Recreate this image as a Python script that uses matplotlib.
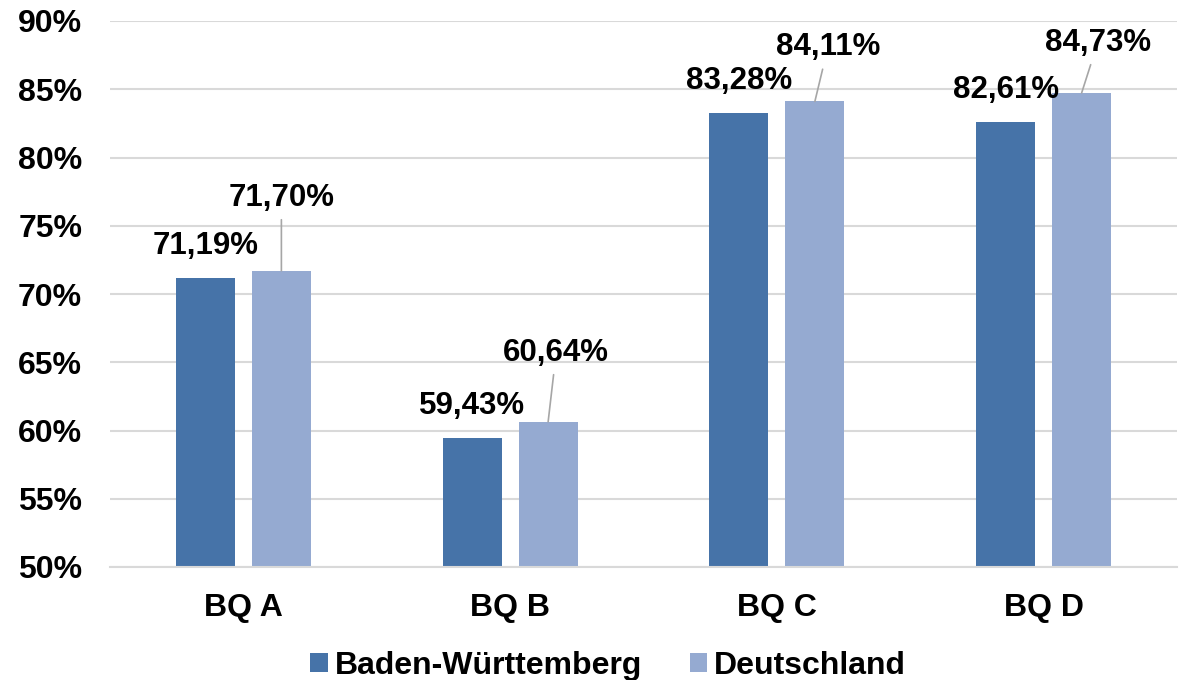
import matplotlib
matplotlib.use("Agg")
import matplotlib.pyplot as plt
from matplotlib.patches import Patch
import numpy as np

categories = ["BQ A", "BQ B", "BQ C", "BQ D"]
series_names = ["Baden-Württemberg", "Deutschland"]
bw_values = [71.19, 59.43, 83.28, 82.61]
de_values = [71.70, 60.64, 84.11, 84.73]
yticks = [50, 55, 60, 65, 70, 75, 80, 85, 90]

# layout of the Deutschland labels (pixel offsets from bar top), leader lines
de_label_dx = [0, 8, 13, 16]
de_label_dy = [58, 54, 39, 35]

dark = "#4673A8"
light = "#95AAD1"
grid_c = "#D9D9D9"
FONT = "Liberation Sans"

plt.rcParams['font.family'] = [FONT, 'DejaVu Sans']
plt.rcParams['font.weight'] = 'bold'

fig = plt.figure(figsize=(11.81, 6.80), dpi=100)
ax = fig.add_axes([110/1181, 1 - 567/680, (1177-110)/1181, (567-21)/680])

x = np.arange(len(categories))
w = 0.221
off = 0.1425
ax.bar(x - off, bw_values, width=w, color=dark, zorder=3)
ax.bar(x + off, de_values, width=w, color=light, zorder=3)

ax.set_ylim(50, 90)
ax.set_xlim(-0.5, len(categories) - 0.5)
ax.set_yticks(yticks)
ax.set_yticklabels([f"{t}%" for t in yticks], fontsize=23, fontweight='bold')
ax.set_xticks(x)
ax.set_xticklabels(categories, fontsize=23, fontweight='bold')
ax.tick_params(axis='y', length=0, pad=20)
ax.tick_params(axis='x', length=0, pad=19)
ax.grid(axis='y', color=grid_c, linewidth=1.5, zorder=0)
for s in ['left', 'right', 'top']:
    ax.spines[s].set_visible(False)
ax.spines['bottom'].set_color(grid_c)
ax.spines['bottom'].set_linewidth(1.5)
ax.spines['bottom'].set_zorder(4)

def fmt(v):
    return f"{v:.2f}".replace(".", ",") + "%"

for i, v in enumerate(bw_values):
    ax.annotate(fmt(v), xy=(x[i] - off, v), xytext=(0, 17), textcoords='offset pixels',
                ha='center', va='bottom', fontsize=22.5, fontweight='bold', zorder=5)

for i, v in enumerate(de_values):
    ax.annotate(fmt(v), xy=(x[i] + off, v),
                xytext=(de_label_dx[i], de_label_dy[i]), textcoords='offset pixels',
                ha='center', va='bottom', fontsize=22.5, fontweight='bold', zorder=5,
                arrowprops=dict(arrowstyle='-', color='#A6A6A6', lw=1.2,
                                shrinkA=3, shrinkB=0))

handles = [Patch(facecolor=dark, edgecolor='none'), Patch(facecolor=light, edgecolor='none')]
fig.legend(handles, series_names, loc='center', bbox_to_anchor=(608/1181, 1 - 666/680),
           ncol=2, frameon=False, prop=dict(family=FONT, weight='bold', size=23),
           handlelength=0.55, handleheight=0.55, handletextpad=0.2, columnspacing=1.5,
           borderpad=0, borderaxespad=0)

fig.savefig("out.png", dpi=100)
